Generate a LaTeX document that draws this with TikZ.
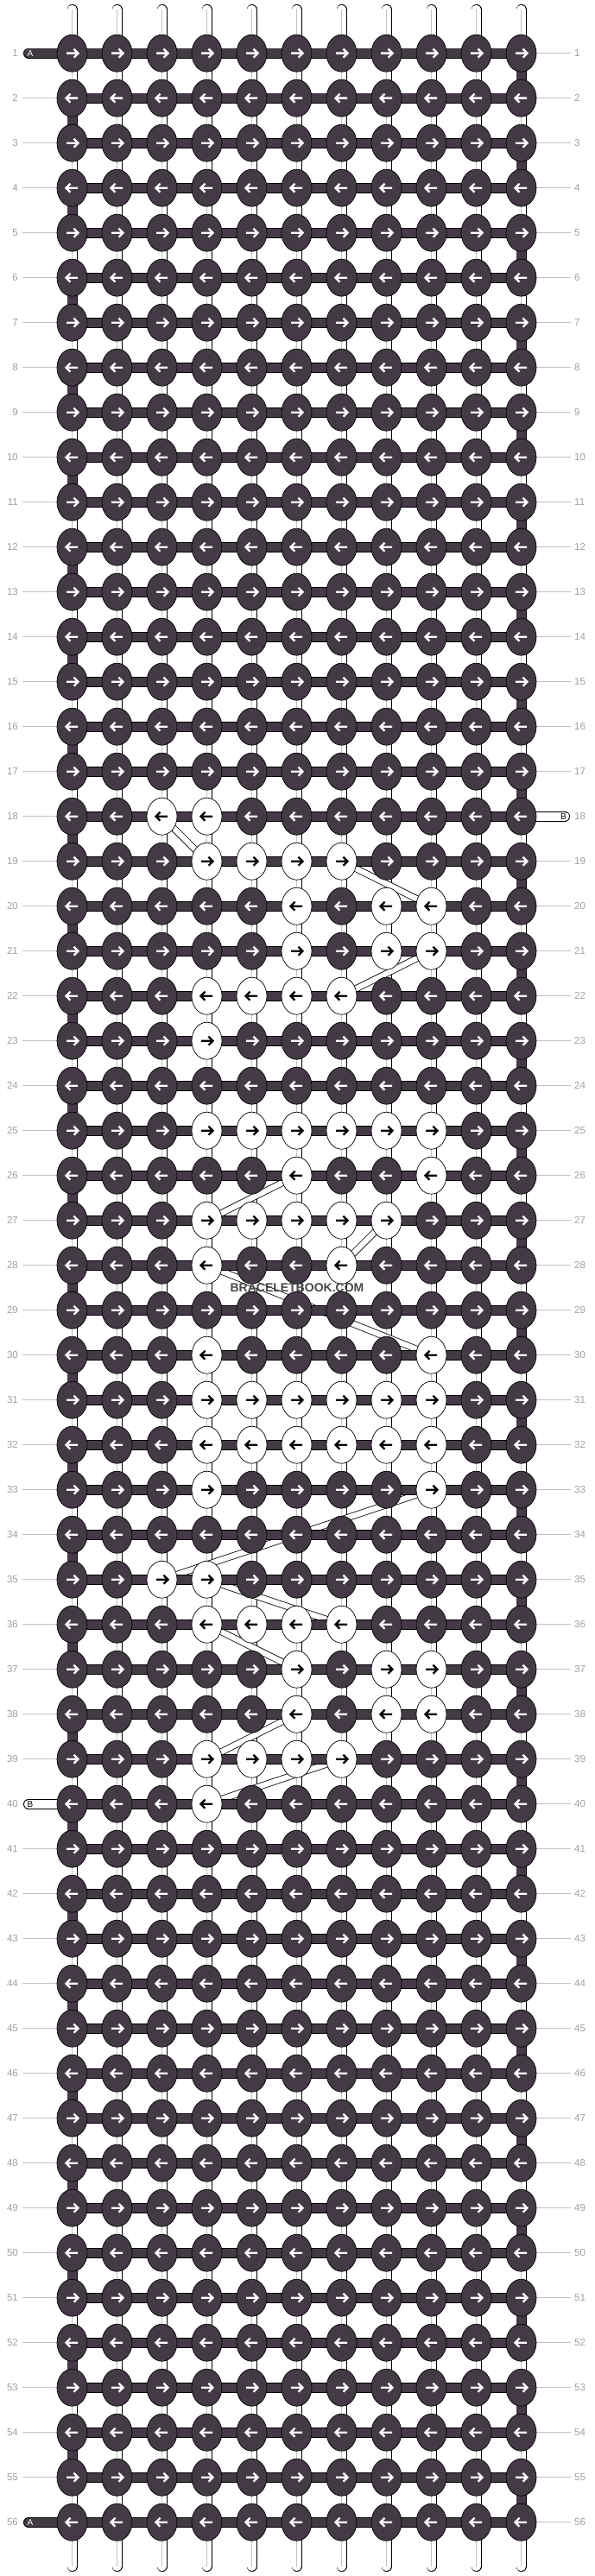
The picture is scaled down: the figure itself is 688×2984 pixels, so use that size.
\documentclass[tikz,border=0pt]{standalone}
\usepackage{fontspec}
\newfontfamily\labfont{Liberation Sans}
\usetikzlibrary{shapes.geometric}

\definecolor{knotdark}{RGB}{67,58,69}
\definecolor{labgrey}{RGB}{160,160,160}
\definecolor{linegrey}{RGB}{195,195,195}
\definecolor{brandgrey}{RGB}{72,72,72}

% knots that show the light strand
\newcommand\markwhite[2]{\expandafter\gdef\csname wk-#1-#2\endcsname{}}
\foreach \r/\cs in {18/{3,4},19/{4,5,6,7},20/{6,8,9},21/{6,8,9},22/{4,5,6,7},23/{4},
    25/{4,5,6,7,8,9},26/{6,9},27/{4,5,6,7,8},28/{4,7},30/{4,9},31/{4,5,6,7,8,9},
    32/{4,5,6,7,8,9},33/{4,9},35/{3,4},36/{4,5,6,7},37/{6,8,9},38/{6,8,9},
    39/{4,5,6,7},40/{4}}{%
  \foreach \c in \cs {\markwhite{\r}{\c}}}

\begin{document}
\begin{tikzpicture}[x=1pt,y=-1pt,
    knot/.style={ellipse,draw=black,line width=0.7pt,minimum width=35pt,minimum height=43pt,inner sep=0pt},
    stickout/.style={line width=12pt,line cap=round,black},
    stickin/.style={line width=10.4pt,line cap=round,white},
    stickmid/.style={line width=0.8pt,linegrey},
    barout/.style={line width=12pt,black},
    barin/.style={line width=10.4pt,knotdark},
    bandout/.style={line width=8pt,black},
    bandin/.style={line width=6.4pt,white},
    arrowmark/.style={line width=2.4pt,line join=miter},
    rowlabel/.style={text=labgrey,font=\labfont\fontsize{11.5}{12}\selectfont,inner sep=0pt},
    rowline/.style={linegrey,line width=0.8pt},
    stubtext/.style={font=\labfont\fontsize{10}{10}\selectfont,inner sep=0pt}]

  \fill[white] (0,0) rectangle (688,2984);
  \useasboundingbox (0,0) rectangle (688,2984);

  % grid positions
  \foreach \r in {1,...,56}
    \foreach \c in {1,...,11}
      \coordinate (p-\r-\c) at ({83.5+52*(\c-1)},{61.7+52*(\r-1)});

  % vertical strands
  \foreach \c in {1,...,11} {
    \coordinate (top-\c) at ({83.5+52*(\c-1)},11);
    \coordinate (bot-\c) at ({83.5+52*(\c-1)},2973);
    \draw[stickout] (top-\c) -- (bot-\c);
    \draw[stickin] (top-\c) -- (bot-\c);
    \draw[stickmid] (top-\c) -- (bot-\c);
  }

  % light strand jumps
  \foreach \ra/\ca/\rb/\cb in {18/3/19/4,19/7/20/9,21/9/22/7,26/6/27/4,27/8/28/7,28/4/30/9,
      33/9/35/3,35/4/36/7,36/4/37/6,38/6/39/4,39/7/40/4} {
    \draw[bandout] (p-\ra-\ca) -- (p-\rb-\cb);
    \draw[bandin] (p-\ra-\ca) -- (p-\rb-\cb);
  }

  % dark strand turning at the edges
  \foreach \r in {1,...,55} {
    \ifodd\r \def\ec{11}\else\def\ec{1}\fi
    \pgfmathtruncatemacro\rn{\r+1}
    \draw[barout] (p-\r-\ec) -- (p-\rn-\ec);
    \draw[barin] (p-\r-\ec) -- (p-\rn-\ec);
  }

  % rows
  \foreach \r in {1,...,56} {
    \draw[barout] (p-\r-1) -- (p-\r-11);
    \draw[barin] (p-\r-1) -- (p-\r-11);
    \node[rowlabel,anchor=east] (ln-\r) at (21,{61.7+52*(\r-1)}) {\r};
    \node[rowlabel,anchor=west] (rn-\r) at (665,{61.7+52*(\r-1)}) {\r};
    \coordinate (lt-\r) at (26,{61.7+52*(\r-1)});
    \coordinate (rt-\r) at (661,{61.7+52*(\r-1)});
    \ifnum\r=1 \else\ifnum\r=40 \else\ifnum\r=56 \else
      \draw[rowline] (lt-\r) -- (p-\r-1);
    \fi\fi\fi
    \ifnum\r=18 \else
      \draw[rowline] (p-\r-11) -- (rt-\r);
    \fi
  }

  % strand ends A and B
  \coordinate (endA-1) at (33,61.7);
  \draw[stickout] (endA-1) -- (p-1-1);
  \draw[stickin,knotdark] (endA-1) -- (p-1-1);
  \node[stubtext,text=white] (labA-1) at (35,61.7) {A};

  \coordinate (endA-56) at (33,2921.7);
  \draw[stickout] (endA-56) -- (p-56-1);
  \draw[stickin,knotdark] (endA-56) -- (p-56-1);
  \node[stubtext,text=white] (labA-56) at (35,2921.7) {A};

  \coordinate (endB-40) at (33,2089.7);
  \draw[stickout] (endB-40) -- (p-40-1);
  \draw[stickin] (endB-40) -- (p-40-1);
  \node[stubtext] (labB-40) at (35,2089.7) {B};

  \coordinate (endB-18) at (654,945.7);
  \draw[stickout] (p-18-11) -- (endB-18);
  \draw[stickin] (p-18-11) -- (endB-18);
  \node[stubtext] (labB-18) at (652.5,945.7) {B};

  % knots
  \foreach \r in {1,...,56}
    \foreach \c in {1,...,11} {
      \ifodd\r \def\dir{1}\else\def\dir{-1}\fi
      \ifcsname wk-\r-\c\endcsname
        \def\kfill{white}\def\kink{black}%
      \else
        \def\kfill{knotdark}\def\kink{white}%
      \fi
      \node[knot,fill=\kfill] (k-\r-\c) at (p-\r-\c) {};
      \draw[arrowmark,draw=\kink,shift={(k-\r-\c.center)},xscale=\dir]
        (-6.5,0) -- (6.5,0) (2,-5) -- (7,0) -- (2,5);
    }

  \node[font=\labfont\bfseries\fontsize{14}{14}\selectfont,text=brandgrey,inner sep=0pt]
    (brand) at (344,1491.7) {BRACELETBOOK.COM};
\end{tikzpicture}
\end{document}
